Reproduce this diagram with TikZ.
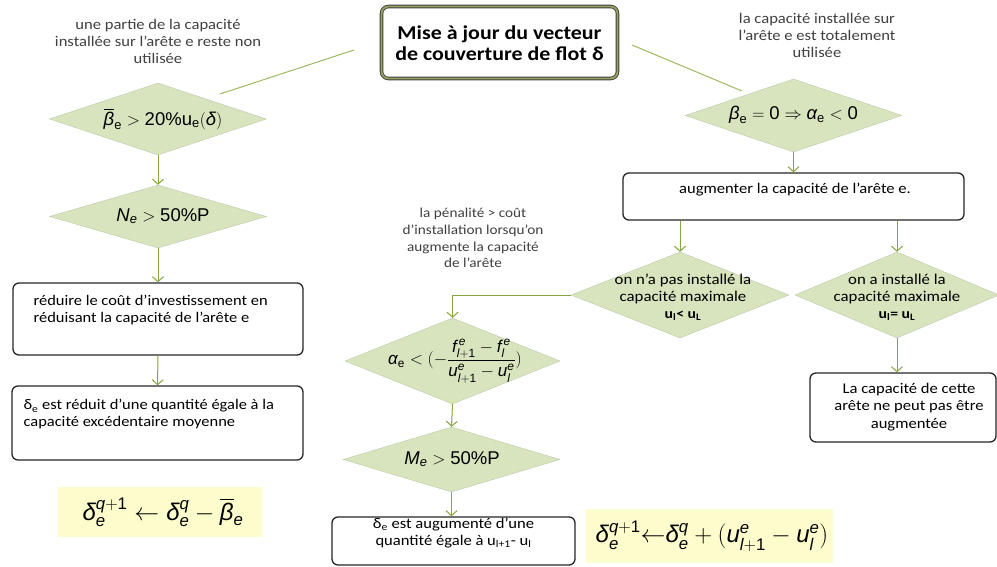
\documentclass[tikz,border=0pt]{standalone}
\usepackage{fontspec}
\usepackage{amsmath}
\setmainfont[FakeStretch=1.12]{Carlito}
\newfontfamily\ars{Liberation Sans}
\usetikzlibrary{shapes.geometric,arrows.meta,calc}
\newcommand{\ai}[1]{\text{\ars\itshape #1}}
\newcommand{\au}[1]{\text{\ars #1}}
\definecolor{diafill}{RGB}{215,228,189}
\definecolor{arrowc}{RGB}{135,165,65}
\definecolor{linec}{RGB}{160,185,95}
\definecolor{annot}{RGB}{64,64,64}
\definecolor{yell}{RGB}{252,252,204}
\definecolor{titleband}{RGB}{150,160,95}
\tikzset{
  dia/.style={diamond, fill=diafill, draw=diafill!85!black, line width=0.3pt, inner sep=0pt},
  arr/.style={draw=arrowc, line width=1pt, -{Straight Barb[length=5pt,width=11pt]}},
  plain/.style={draw=linec, line width=1pt},
  box/.style={rectangle, rounded corners=6pt, draw=black!85, line width=1.3pt, fill=white, inner sep=0pt},
  ybox/.style={rectangle, fill=yell, inner sep=0pt},
  note/.style={text=annot, align=center, font=\fontsize{14.8}{17}\selectfont},
  btxt/.style={align=left, font=\fontsize{14.7}{17}\selectfont},
  ctxt/.style={align=center, font=\fontsize{14.8}{17.5}\selectfont},
  ftxt/.style={font=\fontsize{18.5}{21}\selectfont},
  ytxt/.style={font=\fontsize{24}{28}\selectfont},
}
\begin{document}
\begin{tikzpicture}[x=1pt,y=-1pt]
\useasboundingbox (0,0) rectangle (997,567);

% title
\node[rectangle, rounded corners=7pt, draw=black!75, double=titleband, double distance=1.8pt, line width=0.9pt, fill=white,
      minimum width=236pt, minimum height=72pt, inner sep=0pt] (title) at (499.5,42.5) {};
\node[align=center, font=\bfseries\fontsize{19.6}{20.5}\selectfont] (titlet) at (499.5,43) {Mise à jour du vecteur\\de couverture de flot δ};

% notes
\node[note] (noteL) at (158,41) {une partie de la capacité\\installée sur l'arête e reste non\\utilisée};
\node[note] (noteR) at (817,35) {la capacité installée sur\\l'arête e est totalement\\utilisée};
\node[note, font=\fontsize{13.6}{16.8}\selectfont] (noteM) at (473,238) {la pénalité > coût\\d’installation lorsqu’on\\augmente la capacité\\de l’arête};

% lines from title
\coordinate (l1a) at (354,50);
\coordinate (l1b) at (220,94);
\coordinate (l2a) at (632,45);
\coordinate (l2b) at (742,91);
\draw[plain] (l1a) -- (l1b);
\draw[plain] (l2a) -- (l2b);

% left column
\node[dia, minimum width=217pt, minimum height=72pt] (d1) at (158,119) {};
\node[ftxt] (d1t) at (163,119) {$\overline{\ai{β}}_{\au{e}} > \au{20\%u}_{\au{e}}(\ai{δ})$};
\node[dia, minimum width=217pt, minimum height=63pt] (d2) at (158,216.5) {};
\node[ftxt] (d2t) at (163,216) {$\ai{N}_{\ai{e}} > \au{50\%P}$};
\node[box, minimum width=290pt, minimum height=72pt] (b1) at (158,319) {};
\node[btxt, anchor=north west] (b1t) at (30,292) {réduire le coût d'investissement en\\réduisant la capacité de l'arête e};
\node[box, minimum width=291pt, minimum height=74pt] (b2) at (157.5,423) {};
\node[btxt, anchor=north west] (b2t) at (20,396) {δ\textsubscript{e} est réduit d'une quantité égale à la\\capacité excédentaire moyenne};
\node[ybox, minimum width=204pt, minimum height=50pt] (y1) at (160,512) {};
\node[ytxt] (y1t) at (163,512) {$\ai{δ}^{\ai{q}+\au{1}}_{\ai{e}} \leftarrow \ai{δ}^{\ai{q}}_{\ai{e}} - \overline{\ai{β}}_{\ai{e}}$};

% right column
\node[dia, minimum width=217pt, minimum height=73pt] (dB) at (793.5,115.5) {};
\node[ftxt] (dBt) at (793.5,115) {$\ai{β}_{\au{e}} = \au{0} \Rightarrow \ai{α}_{\au{e}} < \au{0}$};
\node[box, minimum width=341pt, minimum height=47pt] (bA) at (793.5,196.5) {};
\node[ctxt] (bAt) at (795,190) {augmenter la capacité de l'arête e.};
\node[dia, minimum width=218pt, minimum height=86pt] (dN) at (680,295) {};
\node[ctxt, font=\fontsize{15}{17}\selectfont] (dNt) at (683,297) {on n’a pas installé la\\capacité maximale\\{\bfseries\fontsize{14}{16}\selectfont u\textsubscript{l}< u\textsubscript{L}}};
\node[dia, minimum width=204pt, minimum height=86pt] (dI) at (897,295) {};
\node[ctxt, font=\fontsize{15}{17}\selectfont] (dIt) at (897,297) {on a installé la\\capacité maximale\\{\bfseries\fontsize{14}{16}\selectfont u\textsubscript{l}= u\textsubscript{L}}};
\node[box, minimum width=186pt, minimum height=69pt] (bC) at (903,407.5) {};
\node[ctxt] (bCt) at (909,407) {La capacité de cette\\arête ne peut pas être\\augmentée};

% middle column
\node[dia, minimum width=215pt, minimum height=86pt] (dAl) at (452.5,361) {};
\node[ftxt, font=\fontsize{17}{20}\selectfont] (dAlt) at (455,361) {$\ai{α}_{\au{e}} < (-\dfrac{\ai{f}^{\,\ai{e}}_{\ai{l}+\au{1}} - \ai{f}^{\,\ai{e}}_{\ai{l}}}{\ai{u}^{\ai{e}}_{\ai{l}+\au{1}} - \ai{u}^{\ai{e}}_{\ai{l}}})$};
\node[dia, minimum width=217pt, minimum height=65pt] (dM) at (451.5,459.5) {};
\node[ftxt] (dMt) at (452,459) {$\ai{M}_{\ai{e}} > \au{50\%P}$};
\node[box, minimum width=243pt, minimum height=48pt] (bD) at (453.5,541) {};
\node[ctxt, font=\fontsize{14.8}{17.5}\selectfont] (bDt) at (453.5,533) {δ\textsubscript{e} est augumenté d'une\\quantité égale à u\textsubscript{l+1}- u\textsubscript{l}};
\node[ybox, minimum width=247pt, minimum height=54pt] (y2) at (709.5,536) {};
\node[ytxt] (y2t) at (712,536) {$\ai{δ}^{\ai{q}+\au{1}}_{\ai{e}} {\leftarrow} \ai{δ}^{\ai{q}}_{\ai{e}} + (\ai{u}^{\ai{e}}_{\ai{l}+\au{1}} - \ai{u}^{\ai{e}}_{\ai{l}})$};

% connectors
\draw[arr] (d1.south) -- (d2.north);
\draw[arr] (d2.south) -- (b1.north);
\draw[arr] (b1.south) -- (b2.north);
\draw[arr] (dB.south) -- (dB.south |- bA.north);
\draw[arr] (bA.south -| dN.north) -- (dN.north);
\draw[arr] (bA.south -| dI.north) -- (dI.north);
\draw[arr] (dI.south) -- (dI.south |- bC.north);
\draw[arr] (dN.west) -| (dAl.north);
\draw[arr] (dAl.south) -- (dM.north);
\draw[arr] (dM.south) -- (dM.south |- bD.north);
\end{tikzpicture}
\end{document}
